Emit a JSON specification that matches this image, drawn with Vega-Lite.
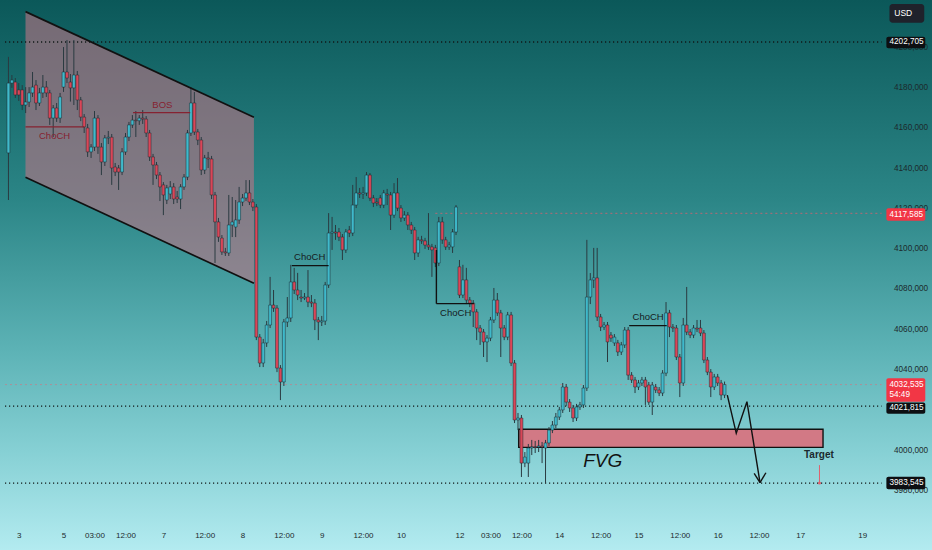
{
  "$schema": "https://vega.github.io/schema/vega-lite/v6.json",
  "width": 932,
  "height": 550,
  "padding": 0,
  "autosize": {"type": "none"},
  "view": {
    "stroke": null,
    "fill": {
      "gradient": "linear", "x1": 0, "y1": 0, "x2": 0, "y2": 1,
      "stops": [
        {"offset": 0, "color": "#0b5859"},
        {"offset": 0.36, "color": "#2b8586"},
        {"offset": 0.64, "color": "#5db3b6"},
        {"offset": 0.82, "color": "#86d0d4"},
        {"offset": 1, "color": "#b3ebf0"}
      ]
    }
  },
  "config": {
    "font": "Liberation Sans, sans-serif",
    "axis": {"grid": false, "domain": false, "ticks": false, "title": null, "labelColor": "#1c2a2c", "labelFont": "Liberation Sans, sans-serif"}
  },
  "datasets": {
    "candles": [
      {"t":0,"o":4147.6,"h":4195.3,"l":4124.2,"c":4182.3},
      {"t":1,"o":4182.3,"h":4186.3,"l":4179.9,"c":4183.8},
      {"t":2,"o":4182.8,"h":4184.8,"l":4174.9,"c":4176.4},
      {"t":3,"o":4178.9,"h":4182.3,"l":4173.4,"c":4176.4},
      {"t":4,"o":4178.9,"h":4181.3,"l":4168.9,"c":4171.4},
      {"t":5,"o":4171.4,"h":4180.3,"l":4167.4,"c":4172.9},
      {"t":6,"o":4172.9,"h":4180.3,"l":4170.4,"c":4177.4},
      {"t":7,"o":4177.4,"h":4187.8,"l":4175.4,"c":4180.3},
      {"t":8,"o":4181.3,"h":4183.8,"l":4168.9,"c":4172.4},
      {"t":9,"o":4172.4,"h":4179.9,"l":4170.9,"c":4177.4},
      {"t":10,"o":4177.4,"h":4186.3,"l":4174.9,"c":4180.3},
      {"t":11,"o":4180.3,"h":4183.3,"l":4175.4,"c":4177.4},
      {"t":12,"o":4177.4,"h":4178.9,"l":4161.5,"c":4164.9},
      {"t":13,"o":4164.9,"h":4171.4,"l":4155.5,"c":4169.9},
      {"t":14,"o":4169.9,"h":4172.4,"l":4163.0,"c":4164.9},
      {"t":15,"o":4164.9,"h":4177.4,"l":4162.5,"c":4175.4},
      {"t":16,"o":4180.3,"h":4200.2,"l":4177.9,"c":4187.8},
      {"t":17,"o":4187.8,"h":4203.7,"l":4182.3,"c":4184.8},
      {"t":18,"o":4182.8,"h":4186.8,"l":4173.1,"c":4179.9},
      {"t":19,"o":4179.9,"h":4203.7,"l":4171.4,"c":4186.3},
      {"t":20,"o":4186.3,"h":4188.3,"l":4168.9,"c":4173.9},
      {"t":21,"o":4173.9,"h":4175.4,"l":4163.4,"c":4165.4},
      {"t":22,"o":4165.4,"h":4166.9,"l":4157.5,"c":4160.5},
      {"t":23,"o":4160.0,"h":4162.0,"l":4145.6,"c":4148.1},
      {"t":24,"o":4148.1,"h":4152.0,"l":4145.1,"c":4150.5},
      {"t":25,"o":4150.5,"h":4168.4,"l":4148.6,"c":4164.9},
      {"t":26,"o":4164.9,"h":4166.4,"l":4147.1,"c":4150.5},
      {"t":27,"o":4150.5,"h":4152.5,"l":4136.6,"c":4143.1},
      {"t":28,"o":4143.1,"h":4156.5,"l":4141.1,"c":4155.0},
      {"t":29,"o":4155.0,"h":4158.5,"l":4152.0,"c":4155.4},
      {"t":30,"o":4155.4,"h":4157.0,"l":4131.7,"c":4140.1},
      {"t":31,"o":4140.6,"h":4142.6,"l":4136.1,"c":4138.1},
      {"t":32,"o":4140.1,"h":4141.6,"l":4129.2,"c":4138.1},
      {"t":33,"o":4138.1,"h":4150.0,"l":4136.6,"c":4148.1},
      {"t":34,"o":4148.1,"h":4157.5,"l":4146.6,"c":4155.5},
      {"t":35,"o":4155.5,"h":4163.0,"l":4153.5,"c":4161.5},
      {"t":36,"o":4161.5,"h":4166.4,"l":4160.0,"c":4163.9},
      {"t":37,"o":4163.9,"h":4168.4,"l":4155.5,"c":4163.6},
      {"t":38,"o":4163.6,"h":4166.4,"l":4161.5,"c":4164.9},
      {"t":39,"o":4164.9,"h":4168.9,"l":4162.0,"c":4164.4},
      {"t":40,"o":4164.4,"h":4165.9,"l":4155.5,"c":4157.5},
      {"t":41,"o":4157.5,"h":4159.0,"l":4143.6,"c":4145.6},
      {"t":42,"o":4145.6,"h":4147.1,"l":4131.7,"c":4141.6},
      {"t":43,"o":4141.6,"h":4143.1,"l":4134.6,"c":4136.6},
      {"t":44,"o":4136.6,"h":4138.1,"l":4123.7,"c":4130.7},
      {"t":45,"o":4131.7,"h":4133.1,"l":4116.7,"c":4126.7},
      {"t":46,"o":4124.2,"h":4131.7,"l":4122.2,"c":4130.2},
      {"t":47,"o":4127.2,"h":4133.6,"l":4124.7,"c":4130.7},
      {"t":48,"o":4130.7,"h":4132.6,"l":4122.2,"c":4124.7},
      {"t":49,"o":4125.7,"h":4128.7,"l":4122.7,"c":4124.7},
      {"t":50,"o":4124.7,"h":4132.1,"l":4119.7,"c":4130.7},
      {"t":51,"o":4130.7,"h":4137.1,"l":4129.2,"c":4135.6},
      {"t":52,"o":4135.6,"h":4159.0,"l":4134.1,"c":4157.5},
      {"t":53,"o":4157.5,"h":4180.3,"l":4156.0,"c":4172.4},
      {"t":54,"o":4172.4,"h":4177.9,"l":4156.5,"c":4158.0},
      {"t":55,"o":4158.0,"h":4159.5,"l":4151.5,"c":4154.0},
      {"t":56,"o":4154.0,"h":4155.5,"l":4136.6,"c":4139.1},
      {"t":57,"o":4139.1,"h":4146.6,"l":4137.1,"c":4145.1},
      {"t":58,"o":4145.1,"h":4148.1,"l":4140.1,"c":4144.6},
      {"t":59,"o":4144.6,"h":4146.1,"l":4124.7,"c":4126.7},
      {"t":60,"o":4126.7,"h":4128.2,"l":4092.9,"c":4113.3},
      {"t":61,"o":4113.3,"h":4115.3,"l":4103.4,"c":4105.8},
      {"t":62,"o":4105.3,"h":4106.8,"l":4096.9,"c":4098.4},
      {"t":63,"o":4098.4,"h":4100.4,"l":4096.4,"c":4097.9},
      {"t":64,"o":4097.9,"h":4126.7,"l":4096.4,"c":4111.8},
      {"t":65,"o":4111.8,"h":4125.7,"l":4105.8,"c":4113.3},
      {"t":66,"o":4110.8,"h":4124.2,"l":4105.8,"c":4114.3},
      {"t":67,"o":4114.3,"h":4130.7,"l":4112.3,"c":4123.2},
      {"t":68,"o":4123.2,"h":4127.2,"l":4121.2,"c":4125.2},
      {"t":69,"o":4125.2,"h":4134.1,"l":4123.7,"c":4127.7},
      {"t":70,"o":4127.7,"h":4134.1,"l":4121.7,"c":4123.2},
      {"t":71,"o":4123.2,"h":4124.7,"l":4118.7,"c":4120.7},
      {"t":72,"o":4120.7,"h":4122.2,"l":4054.6,"c":4056.1},
      {"t":73,"o":4056.1,"h":4057.6,"l":4041.2,"c":4043.2},
      {"t":74,"o":4043.2,"h":4055.2,"l":4041.2,"c":4053.2},
      {"t":75,"o":4053.2,"h":4064.1,"l":4051.2,"c":4062.1},
      {"t":76,"o":4062.1,"h":4086.0,"l":4060.6,"c":4072.0},
      {"t":77,"o":4072.0,"h":4079.5,"l":4068.6,"c":4070.5},
      {"t":78,"o":4070.5,"h":4072.0,"l":4038.7,"c":4040.7},
      {"t":79,"o":4040.7,"h":4042.2,"l":4024.8,"c":4033.8},
      {"t":80,"o":4033.8,"h":4065.1,"l":4031.8,"c":4063.6},
      {"t":81,"o":4063.6,"h":4076.0,"l":4061.1,"c":4065.6},
      {"t":82,"o":4065.6,"h":4092.0,"l":4063.6,"c":4083.5},
      {"t":83,"o":4083.5,"h":4090.5,"l":4077.5,"c":4079.5},
      {"t":84,"o":4079.5,"h":4088.0,"l":4074.5,"c":4077.0},
      {"t":85,"o":4076.0,"h":4079.5,"l":4073.5,"c":4075.5},
      {"t":86,"o":4075.5,"h":4078.0,"l":4074.5,"c":4076.0},
      {"t":87,"o":4076.0,"h":4089.4,"l":4071.0,"c":4073.5},
      {"t":88,"o":4073.5,"h":4077.0,"l":4071.0,"c":4073.0},
      {"t":89,"o":4073.0,"h":4075.0,"l":4059.6,"c":4064.6},
      {"t":90,"o":4064.6,"h":4066.1,"l":4054.6,"c":4063.6},
      {"t":91,"o":4063.6,"h":4066.6,"l":4061.6,"c":4064.1},
      {"t":92,"o":4064.1,"h":4083.5,"l":4062.1,"c":4082.0},
      {"t":93,"o":4082.0,"h":4117.7,"l":4080.5,"c":4107.8},
      {"t":94,"o":4107.8,"h":4115.8,"l":4099.4,"c":4108.3},
      {"t":95,"o":4108.3,"h":4111.8,"l":4104.4,"c":4107.8},
      {"t":96,"o":4108.3,"h":4110.3,"l":4103.8,"c":4105.8},
      {"t":97,"o":4105.8,"h":4107.3,"l":4094.4,"c":4099.4},
      {"t":98,"o":4099.4,"h":4109.8,"l":4097.9,"c":4108.3},
      {"t":99,"o":4109.3,"h":4111.3,"l":4105.8,"c":4107.8},
      {"t":100,"o":4107.8,"h":4131.7,"l":4106.3,"c":4121.7},
      {"t":101,"o":4121.7,"h":4135.6,"l":4120.2,"c":4127.7},
      {"t":102,"o":4127.7,"h":4130.2,"l":4125.2,"c":4127.2},
      {"t":103,"o":4127.2,"h":4130.7,"l":4124.7,"c":4127.7},
      {"t":104,"o":4127.7,"h":4138.1,"l":4126.2,"c":4136.6},
      {"t":105,"o":4136.6,"h":4137.6,"l":4123.7,"c":4125.2},
      {"t":106,"o":4125.2,"h":4126.7,"l":4120.7,"c":4122.7},
      {"t":107,"o":4123.2,"h":4125.2,"l":4121.2,"c":4122.7},
      {"t":108,"o":4125.2,"h":4126.7,"l":4120.2,"c":4121.7},
      {"t":109,"o":4121.7,"h":4129.2,"l":4120.2,"c":4127.7},
      {"t":110,"o":4127.2,"h":4129.7,"l":4121.7,"c":4126.7},
      {"t":111,"o":4126.7,"h":4128.2,"l":4109.3,"c":4116.7},
      {"t":112,"o":4116.7,"h":4132.6,"l":4115.3,"c":4127.7},
      {"t":113,"o":4127.7,"h":4135.1,"l":4118.7,"c":4120.2},
      {"t":114,"o":4120.2,"h":4121.7,"l":4113.3,"c":4115.3},
      {"t":115,"o":4115.3,"h":4118.7,"l":4113.8,"c":4116.7},
      {"t":116,"o":4116.7,"h":4118.2,"l":4109.3,"c":4111.8},
      {"t":117,"o":4111.8,"h":4113.3,"l":4107.3,"c":4109.3},
      {"t":118,"o":4109.3,"h":4110.8,"l":4094.4,"c":4097.9},
      {"t":119,"o":4097.9,"h":4105.9,"l":4095.9,"c":4104.4},
      {"t":120,"o":4104.4,"h":4106.4,"l":4102.4,"c":4103.9},
      {"t":121,"o":4103.9,"h":4105.4,"l":4099.9,"c":4101.8},
      {"t":122,"o":4101.8,"h":4117.7,"l":4099.4,"c":4100.9},
      {"t":123,"o":4100.9,"h":4102.4,"l":4086.0,"c":4099.4},
      {"t":124,"o":4100.4,"h":4101.9,"l":4090.9,"c":4092.9},
      {"t":125,"o":4092.9,"h":4115.8,"l":4091.4,"c":4113.3},
      {"t":126,"o":4113.3,"h":4115.8,"l":4102.4,"c":4104.4},
      {"t":127,"o":4104.4,"h":4105.9,"l":4099.4,"c":4100.9},
      {"t":128,"o":4100.9,"h":4103.4,"l":4099.4,"c":4101.8},
      {"t":129,"o":4100.9,"h":4109.8,"l":4097.9,"c":4108.3},
      {"t":130,"o":4108.3,"h":4121.7,"l":4106.8,"c":4120.7},
      {"t":131,"o":4091.0,"h":4094.4,"l":4075.5,"c":4077.0},
      {"t":132,"o":4077.0,"h":4092.0,"l":4075.5,"c":4084.5},
      {"t":133,"o":4084.5,"h":4090.5,"l":4072.5,"c":4074.5},
      {"t":134,"o":4074.5,"h":4076.0,"l":4071.0,"c":4073.0},
      {"t":135,"o":4073.0,"h":4074.5,"l":4061.1,"c":4068.6},
      {"t":136,"o":4068.6,"h":4070.0,"l":4054.6,"c":4060.6},
      {"t":137,"o":4060.6,"h":4062.1,"l":4052.2,"c":4058.6},
      {"t":138,"o":4058.6,"h":4060.1,"l":4046.2,"c":4053.7},
      {"t":139,"o":4053.7,"h":4057.1,"l":4043.7,"c":4055.6},
      {"t":140,"o":4055.6,"h":4066.1,"l":4054.1,"c":4064.6},
      {"t":141,"o":4064.6,"h":4080.5,"l":4063.1,"c":4074.5},
      {"t":142,"o":4074.5,"h":4078.0,"l":4066.6,"c":4068.1},
      {"t":143,"o":4068.1,"h":4069.6,"l":4046.2,"c":4060.6},
      {"t":144,"o":4060.6,"h":4062.1,"l":4054.6,"c":4056.1},
      {"t":145,"o":4056.1,"h":4068.6,"l":4054.6,"c":4067.1},
      {"t":146,"o":4067.1,"h":4068.6,"l":4041.7,"c":4043.2},
      {"t":147,"o":4043.2,"h":4044.7,"l":4013.4,"c":4014.9},
      {"t":148,"o":4014.9,"h":4018.4,"l":4009.9,"c":4015.9},
      {"t":149,"o":4015.9,"h":4017.4,"l":3986.6,"c":3993.5},
      {"t":150,"o":3993.5,"h":3999.0,"l":3991.5,"c":3996.5},
      {"t":151,"o":3993.5,"h":4003.0,"l":3986.6,"c":4001.0},
      {"t":152,"o":4001.0,"h":4005.0,"l":3997.5,"c":4001.5},
      {"t":153,"o":4001.5,"h":4004.5,"l":3998.5,"c":4001.2},
      {"t":154,"o":4001.5,"h":4005.0,"l":3999.0,"c":4002.0},
      {"t":155,"o":4002.0,"h":4004.0,"l":3993.5,"c":4001.5},
      {"t":156,"o":4001.0,"h":4005.0,"l":3983.6,"c":4003.5},
      {"t":157,"o":4003.5,"h":4011.4,"l":4002.0,"c":4009.9},
      {"t":158,"o":4009.9,"h":4014.4,"l":4008.4,"c":4012.4},
      {"t":159,"o":4012.4,"h":4018.4,"l":4010.9,"c":4016.4},
      {"t":160,"o":4016.4,"h":4021.4,"l":4014.9,"c":4019.9},
      {"t":161,"o":4019.9,"h":4033.3,"l":4018.4,"c":4031.3},
      {"t":162,"o":4031.3,"h":4032.8,"l":4021.9,"c":4023.8},
      {"t":163,"o":4023.8,"h":4025.3,"l":4018.9,"c":4020.9},
      {"t":164,"o":4020.9,"h":4022.4,"l":4013.9,"c":4015.9},
      {"t":165,"o":4015.9,"h":4022.9,"l":4014.4,"c":4021.4},
      {"t":166,"o":4021.4,"h":4023.9,"l":4019.9,"c":4022.4},
      {"t":167,"o":4022.4,"h":4032.3,"l":4020.9,"c":4030.8},
      {"t":168,"o":4030.8,"h":4104.4,"l":4029.3,"c":4076.0},
      {"t":169,"o":4076.0,"h":4087.9,"l":4072.5,"c":4084.5},
      {"t":170,"o":4084.5,"h":4100.4,"l":4080.5,"c":4085.5},
      {"t":171,"o":4085.5,"h":4100.4,"l":4064.1,"c":4066.1},
      {"t":172,"o":4066.1,"h":4067.6,"l":4059.1,"c":4061.1},
      {"t":173,"o":4061.1,"h":4063.6,"l":4059.6,"c":4062.1},
      {"t":174,"o":4062.1,"h":4063.6,"l":4043.7,"c":4053.7},
      {"t":175,"o":4057.1,"h":4058.6,"l":4053.7,"c":4055.6},
      {"t":176,"o":4053.2,"h":4057.6,"l":4051.7,"c":4056.1},
      {"t":177,"o":4053.2,"h":4054.7,"l":4046.7,"c":4048.7},
      {"t":178,"o":4048.7,"h":4053.7,"l":4047.2,"c":4052.2},
      {"t":179,"o":4052.2,"h":4061.1,"l":4050.7,"c":4059.6},
      {"t":180,"o":4059.6,"h":4061.1,"l":4034.8,"c":4037.2},
      {"t":181,"o":4037.2,"h":4038.7,"l":4033.3,"c":4034.8},
      {"t":182,"o":4034.8,"h":4036.3,"l":4028.3,"c":4031.3},
      {"t":183,"o":4031.3,"h":4034.8,"l":4029.8,"c":4033.3},
      {"t":184,"o":4033.3,"h":4036.3,"l":4031.8,"c":4034.8},
      {"t":185,"o":4034.8,"h":4036.3,"l":4022.4,"c":4031.3},
      {"t":186,"o":4032.3,"h":4033.8,"l":4022.4,"c":4023.8},
      {"t":187,"o":4023.8,"h":4033.8,"l":4017.4,"c":4032.3},
      {"t":188,"o":4031.3,"h":4032.8,"l":4028.3,"c":4029.8},
      {"t":189,"o":4029.8,"h":4031.3,"l":4026.8,"c":4028.3},
      {"t":190,"o":4028.3,"h":4039.7,"l":4026.8,"c":4038.2},
      {"t":191,"o":4038.2,"h":4073.5,"l":4036.7,"c":4068.1},
      {"t":192,"o":4068.1,"h":4069.6,"l":4056.1,"c":4061.1},
      {"t":193,"o":4061.1,"h":4062.6,"l":4058.6,"c":4060.6},
      {"t":194,"o":4060.6,"h":4062.1,"l":4044.7,"c":4046.2},
      {"t":195,"o":4046.2,"h":4047.7,"l":4026.3,"c":4033.3},
      {"t":196,"o":4033.3,"h":4065.6,"l":4031.8,"c":4062.1},
      {"t":197,"o":4062.1,"h":4081.0,"l":4057.1,"c":4058.6},
      {"t":198,"o":4058.6,"h":4060.1,"l":4055.6,"c":4057.1},
      {"t":199,"o":4057.1,"h":4062.1,"l":4055.6,"c":4060.6},
      {"t":200,"o":4060.6,"h":4064.6,"l":4058.6,"c":4060.1},
      {"t":201,"o":4060.6,"h":4064.6,"l":4056.6,"c":4058.1},
      {"t":202,"o":4058.1,"h":4059.6,"l":4043.2,"c":4044.7},
      {"t":203,"o":4044.7,"h":4046.2,"l":4037.2,"c":4038.7},
      {"t":204,"o":4038.7,"h":4040.2,"l":4026.3,"c":4031.3},
      {"t":205,"o":4031.3,"h":4037.8,"l":4029.8,"c":4036.3},
      {"t":206,"o":4036.3,"h":4037.8,"l":4031.8,"c":4033.3},
      {"t":207,"o":4033.3,"h":4034.8,"l":4024.8,"c":4027.3},
      {"t":208,"o":4027.3,"h":4034.0,"l":4025.8,"c":4032.5}
    ],
    "channel": [
      {"t": 4.95, "top": 4217.8, "bot": 4135.5},
      {"t": 71.3, "top": 4165.3, "bot": 4082.8}
    ],
    "blackSegs": [
      {"t1": 4.95, "p1": 4217.8, "t2": 71.3, "p2": 4165.3, "w": "chan"},
      {"t1": 4.95, "p1": 4135.5, "t2": 71.3, "p2": 4082.8, "w": "chan"},
      {"t1": 82.3, "p1": 4091.6, "t2": 93.0, "p2": 4091.6, "w": "mark"},
      {"t1": 124.3, "p1": 4072.7, "t2": 135.2, "p2": 4072.7, "w": "mark"},
      {"t1": 124.3, "p1": 4099.4, "t2": 124.3, "p2": 4072.7, "w": "mark"},
      {"t1": 180.3, "p1": 4061.8, "t2": 191.2, "p2": 4061.8, "w": "mark"},
      {"t1": 216.6, "p1": 3988.4, "t2": 218.3, "p2": 3983.8, "w": "mark"},
      {"t1": 220.0, "p1": 3988.7, "t2": 218.3, "p2": 3983.8, "w": "mark"}
    ],
    "redSegs": [
      {"t1": 4.95, "p1": 4160.5, "t2": 22.0, "p2": 4160.5},
      {"t1": 36.2, "p1": 4167.6, "t2": 52.8, "p2": 4167.6}
    ],
    "levels": [
      {"p": 4202.705, "t1": -1},
      {"p": 4021.815, "t1": -1},
      {"p": 3983.545, "t1": -1}
    ],
    "redLevels": [
      {"p": 4117.585, "t1": 124, "kind": "prev"},
      {"p": 4032.535, "t1": -1, "kind": "last"}
    ],
    "fvg": [{"t1": 148.2, "t2": 236.6, "p1": 4010.3, "p2": 4001.3}],
    "arrow": [
      {"t": 208.8, "p": 4027.3},
      {"t": 211.4, "p": 4008.3},
      {"t": 214.5, "p": 4024.0},
      {"t": 218.3, "p": 3983.8}
    ],
    "notes": [
      {"t": 13.4, "p": 4156.0, "text": "ChoCH", "kind": "red"},
      {"t": 44.7, "p": 4171.2, "text": "BOS", "kind": "red"},
      {"t": 87.5, "p": 4095.9, "text": "ChoCH", "kind": "black"},
      {"t": 129.9, "p": 4068.2, "text": "ChoCH", "kind": "black"},
      {"t": 185.8, "p": 4066.2, "text": "ChoCH", "kind": "black"}
    ],
    "target": [{"t": 235.57, "p1": 3992.5, "p2": 3983.6}],
    "tags": [
      {"hi": 4205.3, "lo": 4199.6, "kind": "black"},
      {"hi": 4120.1, "lo": 4113.9, "kind": "red"},
      {"hi": 4035.6, "lo": 4024.0, "kind": "red"},
      {"hi": 4023.6, "lo": 4018.0, "kind": "black"},
      {"hi": 3986.7, "lo": 3980.5, "kind": "black"}
    ],
    "tagText": [
      {"p": 4202.5, "text": "4202,705"},
      {"p": 4117.0, "text": "4117,585"},
      {"p": 4032.3, "text": "4032,535"},
      {"p": 4027.3, "text": "54:49"},
      {"p": 4020.8, "text": "4021,815"},
      {"p": 3983.6, "text": "3983,545"}
    ]
  },
  "layer": [
    {
      "data": {"name": "channel"},
      "mark": {"type": "area", "fill": "#bd7486", "opacity": 0.6},
      "encoding": {
        "x": {"field": "t", "type": "quantitative", "scale": {"domain": [-1, 266.8], "nice": false, "zero": false},
          "axis": {"orient": "bottom", "offset": -24, "labelPadding": 5, "labelFontSize": 8, "labelFlush": false, "labelOverlap": false,
            "values": [3, 16, 25, 34, 45, 57, 68, 80, 91, 103, 114, 131, 140, 149, 160, 172, 183, 195, 206, 218, 230, 248],
            "labelExpr": "['3','5','03:00','12:00','7','12:00','8','12:00','9','12:00','10','12','03:00','12:00','14','12:00','15','12:00','16','12:00','17','19'][indexof([3,16,25,34,45,57,68,80,91,103,114,131,140,149,160,172,183,195,206,218,230,248], datum.value)]"}},
        "y": {"field": "top", "type": "quantitative", "scale": {"domain": [3950.32, 4223.57], "nice": false, "zero": false},
          "axis": {"orient": "right", "offset": -45, "labelPadding": 6.5, "labelFontSize": 8.2, "labelAlign": "left", "labelBaseline": "middle",
            "values": [3980, 4000, 4040, 4060, 4080, 4100, 4120, 4140, 4160, 4180, 4200],
            "labelExpr": "replace(format(datum.value, '.3f'), '.', ',')"}},
        "y2": {"field": "bot"}
      }
    },
    {
      "data": {"name": "levels"},
      "mark": {"type": "rule", "color": "#101818", "strokeWidth": 1.3, "strokeDash": [1.2, 2.8]},
      "encoding": {
        "x": {"field": "t1", "type": "quantitative", "scale": {"domain": [-1, 266.8], "nice": false, "zero": false}, "title": null},
        "x2": {"datum": 253.6},
        "y": {"field": "p", "type": "quantitative", "scale": {"domain": [3950.32, 4223.57], "nice": false, "zero": false}, "title": null}
      }
    },
    {
      "data": {"name": "redLevels"},
      "mark": {"type": "rule", "strokeWidth": 0.9, "strokeDash": [2, 3]},
      "encoding": {
        "x": {"field": "t1", "type": "quantitative", "scale": {"domain": [-1, 266.8], "nice": false, "zero": false}, "title": null},
        "x2": {"datum": 253.6},
        "y": {"field": "p", "type": "quantitative", "scale": {"domain": [3950.32, 4223.57], "nice": false, "zero": false}, "title": null},
        "color": {"condition": {"test": "datum.kind == 'prev'", "value": "#d8606e"}, "value": "#c97a86"},
        "opacity": {"condition": {"test": "datum.kind == 'prev'", "value": 0.9}, "value": 0.7}
      }
    },
    {
      "data": {"name": "fvg"},
      "mark": {"type": "rect", "fill": "#d27985", "stroke": "#111111", "strokeWidth": 1.4},
      "encoding": {
        "x": {"field": "t1", "type": "quantitative", "scale": {"domain": [-1, 266.8], "nice": false, "zero": false}, "title": null},
        "x2": {"field": "t2"},
        "y": {"field": "p1", "type": "quantitative", "scale": {"domain": [3950.32, 4223.57], "nice": false, "zero": false}, "title": null},
        "y2": {"field": "p2"}
      }
    },
    {
      "data": {"name": "candles"},
      "mark": {"type": "rule", "color": "#2a3a40", "strokeWidth": 1},
      "encoding": {
        "x": {"field": "t", "type": "quantitative", "scale": {"domain": [-1, 266.8], "nice": false, "zero": false}, "title": null},
        "y": {"field": "l", "type": "quantitative", "scale": {"domain": [3950.32, 4223.57], "nice": false, "zero": false}, "title": null},
        "y2": {"field": "h"}
      }
    },
    {
      "data": {"name": "candles"},
      "mark": {"type": "bar", "width": 2.9, "stroke": "#1e2e34", "strokeWidth": 0.5},
      "encoding": {
        "x": {"field": "t", "type": "quantitative", "scale": {"domain": [-1, 266.8], "nice": false, "zero": false}, "title": null},
        "y": {"field": "o", "type": "quantitative", "scale": {"domain": [3950.32, 4223.57], "nice": false, "zero": false}, "title": null},
        "y2": {"field": "c"},
        "fill": {"condition": {"test": "datum.c >= datum.o", "value": "#3fb9cb"}, "value": "#da4658"}
      }
    },
    {
      "data": {"name": "redSegs"},
      "mark": {"type": "rule", "color": "#862231", "strokeWidth": 1.3},
      "encoding": {
        "x": {"field": "t1", "type": "quantitative", "scale": {"domain": [-1, 266.8], "nice": false, "zero": false}, "title": null},
        "x2": {"field": "t2"},
        "y": {"field": "p1", "type": "quantitative", "scale": {"domain": [3950.32, 4223.57], "nice": false, "zero": false}, "title": null},
        "y2": {"field": "p2"}
      }
    },
    {
      "data": {"name": "blackSegs"},
      "mark": {"type": "rule", "color": "#111111"},
      "encoding": {
        "x": {"field": "t1", "type": "quantitative", "scale": {"domain": [-1, 266.8], "nice": false, "zero": false}, "title": null},
        "x2": {"field": "t2"},
        "y": {"field": "p1", "type": "quantitative", "scale": {"domain": [3950.32, 4223.57], "nice": false, "zero": false}, "title": null},
        "y2": {"field": "p2"},
        "strokeWidth": {"condition": {"test": "datum.w == 'chan'", "value": 1.7}, "value": 1.4}
      }
    },
    {
      "data": {"name": "arrow"},
      "mark": {"type": "line", "color": "#111111", "strokeWidth": 1.4},
      "encoding": {
        "x": {"field": "t", "type": "quantitative", "scale": {"domain": [-1, 266.8], "nice": false, "zero": false}, "title": null},
        "y": {"field": "p", "type": "quantitative", "scale": {"domain": [3950.32, 4223.57], "nice": false, "zero": false}, "title": null}
      }
    },
    {
      "data": {"name": "notes"},
      "mark": {"type": "text", "fontSize": 9.5, "fontWeight": 500, "align": "center", "baseline": "middle"},
      "encoding": {
        "x": {"field": "t", "type": "quantitative", "scale": {"domain": [-1, 266.8], "nice": false, "zero": false}, "title": null},
        "y": {"field": "p", "type": "quantitative", "scale": {"domain": [3950.32, 4223.57], "nice": false, "zero": false}, "title": null},
        "text": {"field": "text"},
        "color": {"condition": {"test": "datum.kind == 'red'", "value": "#862231"}, "value": "#151a1c"}
      }
    },
    {
      "data": {"values": [{"t": 172.6, "p": 3994.5, "text": "FVG"}]},
      "mark": {"type": "text", "fontSize": 19, "fontStyle": "italic", "color": "#111111", "align": "center", "baseline": "middle"},
      "encoding": {
        "x": {"field": "t", "type": "quantitative", "scale": {"domain": [-1, 266.8], "nice": false, "zero": false}, "title": null},
        "y": {"field": "p", "type": "quantitative", "scale": {"domain": [3950.32, 4223.57], "nice": false, "zero": false}, "title": null},
        "text": {"field": "text"}
      }
    },
    {
      "data": {"values": [{"t": 235.4, "p": 3997.5, "text": "Target"}]},
      "mark": {"type": "text", "fontSize": 10, "fontWeight": "bold", "color": "#1b2a2e", "align": "center", "baseline": "middle"},
      "encoding": {
        "x": {"field": "t", "type": "quantitative", "scale": {"domain": [-1, 266.8], "nice": false, "zero": false}, "title": null},
        "y": {"field": "p", "type": "quantitative", "scale": {"domain": [3950.32, 4223.57], "nice": false, "zero": false}, "title": null},
        "text": {"field": "text"}
      }
    },
    {
      "data": {"name": "target"},
      "mark": {"type": "rule", "color": "#e0606e", "strokeWidth": 1},
      "encoding": {
        "x": {"field": "t", "type": "quantitative", "scale": {"domain": [-1, 266.8], "nice": false, "zero": false}, "title": null},
        "y": {"field": "p1", "type": "quantitative", "scale": {"domain": [3950.32, 4223.57], "nice": false, "zero": false}, "title": null},
        "y2": {"field": "p2"}
      }
    },
    {
      "data": {"name": "target"},
      "mark": {"type": "circle", "color": "#e0606e", "size": 9, "opacity": 1},
      "encoding": {
        "x": {"field": "t", "type": "quantitative", "scale": {"domain": [-1, 266.8], "nice": false, "zero": false}, "title": null},
        "y": {"field": "p2", "type": "quantitative", "scale": {"domain": [3950.32, 4223.57], "nice": false, "zero": false}, "title": null}
      }
    },
    {
      "data": {"name": "tags"},
      "mark": {"type": "rect", "cornerRadius": 2},
      "encoding": {
        "x": {"datum": 255.0, "type": "quantitative", "scale": {"domain": [-1, 266.8], "nice": false, "zero": false}, "title": null},
        "x2": {"datum": 266.3},
        "y": {"field": "hi", "type": "quantitative", "scale": {"domain": [3950.32, 4223.57], "nice": false, "zero": false}, "title": null},
        "y2": {"field": "lo"},
        "fill": {"condition": {"test": "datum.kind == 'red'", "value": "#f23645"}, "value": "#0d0f12"}
      }
    },
    {
      "data": {"name": "tagText"},
      "mark": {"type": "text", "fontSize": 8.2, "color": "#ffffff", "align": "left", "baseline": "middle"},
      "encoding": {
        "x": {"datum": 255.9, "type": "quantitative", "scale": {"domain": [-1, 266.8], "nice": false, "zero": false}, "title": null},
        "y": {"field": "p", "type": "quantitative", "scale": {"domain": [3950.32, 4223.57], "nice": false, "zero": false}, "title": null},
        "text": {"field": "text"}
      }
    },
    {
      "data": {"values": [{"hi": 4221.6, "lo": 4212.3}]},
      "mark": {"type": "rect", "fill": "#1f222b", "cornerRadius": 3},
      "encoding": {
        "x": {"datum": 255.9, "type": "quantitative", "scale": {"domain": [-1, 266.8], "nice": false, "zero": false}, "title": null},
        "x2": {"datum": 266.0},
        "y": {"field": "hi", "type": "quantitative", "scale": {"domain": [3950.32, 4223.57], "nice": false, "zero": false}, "title": null},
        "y2": {"field": "lo"}
      }
    },
    {
      "data": {"values": [{"p": 4217.0, "text": "USD"}]},
      "mark": {"type": "text", "fontSize": 8.5, "color": "#ffffff", "align": "left", "baseline": "middle"},
      "encoding": {
        "x": {"datum": 257.3, "type": "quantitative", "scale": {"domain": [-1, 266.8], "nice": false, "zero": false}, "title": null},
        "y": {"field": "p", "type": "quantitative", "scale": {"domain": [3950.32, 4223.57], "nice": false, "zero": false}, "title": null},
        "text": {"field": "text"}
      }
    }
  ]
}
